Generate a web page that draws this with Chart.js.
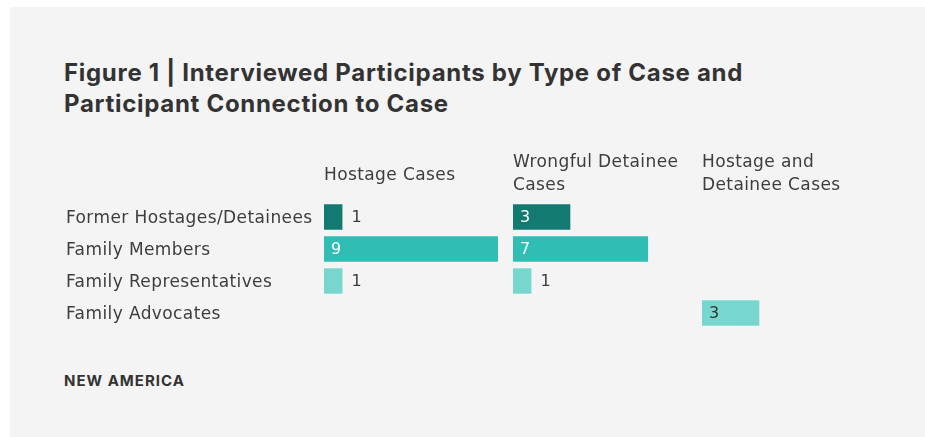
<!DOCTYPE html>
<html>
<head>
<meta charset="utf-8">
<script src="https://cdn.jsdelivr.net/npm/chart.js@4.4.0/dist/chart.umd.min.js"></script>
<style>
body{margin:0;background:#fff;font-family:"DejaVu Sans",sans-serif;}
#panel{position:absolute;left:10px;top:7px;width:915px;height:430px;background:#f4f4f4;}
#title{position:absolute;left:64px;top:57px;font:700 24px Inter;color:#333;line-height:31px;letter-spacing:0.7px;}
#footer{position:absolute;left:64px;top:371px;font:700 15px Inter;color:#333;letter-spacing:1px;}
canvas{position:absolute;}
</style>
</head>
<body>
<div id="panel"></div>
<div id="title">Figure 1 | Interviewed Participants by Type of Case and<br>Participant Connection to Case</div>
<div id="footer">NEW AMERICA</div>
<canvas id="c1" width="433" height="189" style="left:66px;top:140px"></canvas>
<canvas id="c2" width="175" height="189" style="left:513px;top:140px"></canvas>
<canvas id="c3" width="175" height="189" style="left:702px;top:140px"></canvas>
<script>
// data
const categories = ['Former Hostages/Detainees', 'Family Members', 'Family Representatives', 'Family Advocates'];
const panelTitles = [['Hostage Cases'], ['Wrongful Detainee', 'Cases'], ['Hostage and', 'Detainee Cases']];
const hostageCases = [1, 9, 1, null];
const detaineeCases = [3, 7, 1, null];
const bothCases = [null, null, null, 3];

const barColors = ['#127a70', '#2fbdb4', '#77d7cf', '#77d7cf'];
const insideText = ['#fff', '#fff', '#333', '#333'];
const textColor = '#3d3d3d';
const font = 'DejaVu Sans';

// the reference text is a bit more spaced out than DejaVu
const spacing = {
    id: 'spacing',
    beforeDraw(chart) { chart.ctx.letterSpacing = '0.4px'; }
};

// writes the numbers next to / inside each bar
const valueLabels = {
    id: 'valueLabels',
    afterDatasetsDraw(chart) {
        let ctx = chart.ctx;
        let meta = chart.getDatasetMeta(0);
        let values = chart.data.datasets[0].data;
        ctx.save();
        ctx.font = '16px "' + font + '"';
        ctx.textBaseline = 'middle';
        meta.data.forEach(function(bar, i) {
            let v = values[i];
            if (v == null) return;
            if (v >= 3) {
                ctx.fillStyle = insideText[i];
                ctx.fillText(v, bar.base + 7, bar.y + 1);
            } else {
                ctx.fillStyle = textColor;
                ctx.fillText(v, bar.x + 8, bar.y + 1);
            }
        });
        ctx.restore();
    }
};

function makeChart(id, values, title, showLabels) {
    new Chart(document.getElementById(id), {
        type: 'bar',
        data: {
            labels: categories,
            datasets: [{
                data: values,
                backgroundColor: barColors,
                borderColor: 'rgba(255,255,255,0.3)',
                borderWidth: 1,
                barPercentage: 0.86,
                categoryPercentage: 1
            }]
        },
        options: {
            indexAxis: 'y',
            responsive: false,
            animation: false,
            plugins: { legend: { display: false }, tooltip: { enabled: false } },
            scales: {
                x: {
                    position: 'top',
                    min: 0,
                    max: 9,
                    grid: { display: false },
                    border: { display: false },
                    ticks: { display: false },
                    title: {
                        display: true,
                        text: title,
                        align: 'start',
                        color: textColor,
                        font: { family: font, size: 17, lineHeight: 1.35 },
                        padding: { top: title.length > 1 ? 11 : 24, bottom: 0 }
                    },
                    afterFit: function(s) { s.height = 61; s.paddingLeft = 0; s.paddingRight = 0; }
                },
                y: {
                    display: showLabels,
                    grid: { display: false },
                    border: { display: false },
                    ticks: {
                        crossAlign: 'far',
                        padding: 0,
                        labelOffset: 2,
                        color: textColor,
                        font: { family: font, size: 17 }
                    },
                    afterFit: function(s) {
                        s.paddingTop = 0;
                        s.paddingBottom = 0;
                        if (showLabels) s.width = 258;
                    }
                }
            }
        },
        plugins: [spacing, valueLabels]
    });
}

makeChart('c1', hostageCases, panelTitles[0], true);
makeChart('c2', detaineeCases, panelTitles[1], false);
makeChart('c3', bothCases, panelTitles[2], false);
</script>
</body>
</html>
